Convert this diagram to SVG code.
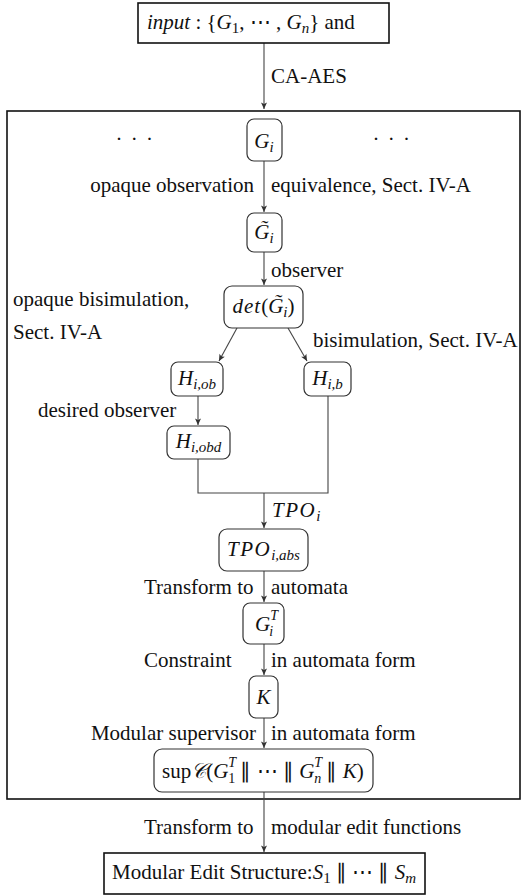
<svg xmlns="http://www.w3.org/2000/svg" width="521" height="896" viewBox="0 0 521 896" font-family="Liberation Serif, serif">
<defs>
<marker id="ah" markerWidth="8" markerHeight="8" refX="7" refY="4" orient="auto" markerUnits="userSpaceOnUse">
<path d="M0.5,1 L7,4 L0.5,7 L2,4 z" fill="#333"/>
</marker>
</defs>
<style>
text { font-family: 'Liberation Serif', serif; font-size: 21px; fill: #111; }
.i { font-style: italic; }
.s { font-size: 15px; }
.t { font-size: 14px; }
.mid { text-anchor: middle; }
.end { text-anchor: end; }
.node { fill: #fff; stroke: #333; stroke-width: 1.2; }
.box { fill: none; stroke: #111; stroke-width: 1.6; }
.edge { fill: none; stroke: #444; stroke-width: 1.1; }
.ar { marker-end: url(#ah); }
</style>
<rect width="521" height="896" fill="#fff"/>

<g id="frame">
<rect class="box" x="7" y="111" width="513" height="688"/>
</g>

<g id="connectors">
<line class="edge ar" x1="264" y1="43" x2="264" y2="109"/>
<line class="edge ar" x1="264" y1="161" x2="264" y2="212"/>
<line class="edge ar" x1="264" y1="252" x2="264" y2="285"/>
<line class="edge ar" x1="237" y1="328" x2="219" y2="361"/>
<line class="edge ar" x1="288" y1="328" x2="307" y2="361"/>
<line class="edge ar" x1="198" y1="396" x2="198" y2="425"/>
<polyline class="edge" points="198,459 198,493 328,493 328,396"/>
<line class="edge ar" x1="264" y1="493" x2="264" y2="528"/>
<line class="edge ar" x1="264" y1="571" x2="264" y2="602"/>
<line class="edge ar" x1="264" y1="644" x2="264" y2="675"/>
<line class="edge ar" x1="264" y1="718" x2="264" y2="748"/>
<line class="edge ar" x1="264" y1="792" x2="264" y2="852"/>
</g>

<g id="labels">
<text x="271" y="83">CA-AES</text>
<text x="135" y="146" class="mid" letter-spacing="1.5">· · ·</text>
<text x="392" y="146" class="mid" letter-spacing="1.5">· · ·</text>
<text x="254" y="192" class="end">opaque observation</text>
<text x="271" y="192">equivalence, Sect. IV-A</text>
<text x="271" y="277">observer</text>
<text x="13" y="306">opaque bisimulation,</text>
<text x="13" y="339">Sect. IV-A</text>
<text x="313" y="347">bisimulation, Sect. IV-A</text>
<text x="38" y="417">desired observer</text>
<text x="272" y="517"><tspan class="i" letter-spacing="1.5">TPO</tspan><tspan class="s i" dy="4">i</tspan></text>
<text x="144" y="594">Transform to</text>
<text x="271" y="594">automata</text>
<text x="144" y="667">Constraint</text>
<text x="271" y="667">in automata form</text>
<text x="256" y="740" class="end">Modular supervisor</text>
<text x="271" y="740">in automata form</text>
<text x="144" y="834">Transform to</text>
<text x="271" y="834">modular edit functions</text>
</g>

<g id="n-input">
<rect class="box" x="138" y="3" width="251" height="40"/>
<text x="147" y="29"><tspan class="i">input</tspan> : {<tspan class="i">G</tspan><tspan class="s" dy="4">1</tspan><tspan dy="-4">, ⋯ , </tspan><tspan class="i">G</tspan><tspan class="s i" dy="4">n</tspan><tspan dy="-4">}  and</tspan></text>
</g>

<g id="n-Gi">
<rect class="node" x="247" y="119" width="35" height="42" rx="7"/>
<text x="264" y="148" class="mid"><tspan class="i">G</tspan><tspan class="s i" dy="4">i</tspan></text>
</g>

<g id="n-Gti">
<rect class="node" x="247" y="213" width="35" height="39" rx="7"/>
<text x="264" y="239" class="mid"><tspan class="i">G̃</tspan><tspan class="s i" dy="4">i</tspan></text>
</g>

<g id="n-det">
<rect class="node" x="224" y="286" width="79" height="42" rx="8"/>
<text x="263.5" y="313" class="mid"><tspan class="i" letter-spacing="1">det</tspan>(<tspan class="i">G̃</tspan><tspan class="s i" dy="4">i</tspan><tspan dy="-4">)</tspan></text>
</g>

<g id="n-Hiob">
<rect class="node" x="171" y="362" width="52" height="34" rx="7"/>
<text x="197" y="385" class="mid"><tspan class="i">H</tspan><tspan class="s i" dy="4">i,ob</tspan></text>
</g>

<g id="n-Hib">
<rect class="node" x="304" y="362" width="47" height="34" rx="7"/>
<text x="327.5" y="385" class="mid"><tspan class="i">H</tspan><tspan class="s i" dy="4">i,b</tspan></text>
</g>

<g id="n-Hiobd">
<rect class="node" x="167" y="426" width="63" height="33" rx="7"/>
<text x="198.5" y="448" class="mid"><tspan class="i">H</tspan><tspan class="s i" dy="4">i,obd</tspan></text>
</g>

<g id="n-TPOabs">
<rect class="node" x="219" y="529" width="89" height="42" rx="8"/>
<text x="263.5" y="556" class="mid"><tspan class="i" letter-spacing="1.5">TPO</tspan><tspan class="s i" dy="4">i,abs</tspan></text>
</g>

<g id="n-GiT">
<rect class="node" x="243" y="603" width="41" height="41" rx="7"/>
<text x="255" y="631"><tspan class="i">G</tspan><tspan class="t i" dy="-11">T</tspan><tspan class="t i" dx="-8" dy="16">i</tspan></text>
</g>

<g id="n-K">
<rect class="node" x="249" y="676" width="29" height="42" rx="7"/>
<text x="263.5" y="704" class="mid"><tspan class="i">K</tspan></text>
</g>

<g id="n-sup">
<rect class="node" x="154" y="749" width="219" height="43" rx="8"/>
<text x="162" y="778">sup<tspan class="i">𝒞</tspan>(<tspan class="i">G</tspan><tspan class="t i" dy="-11">T</tspan><tspan class="t" dx="-8" dy="16">1</tspan><tspan dy="-5"> ∥ ⋯ ∥ </tspan><tspan class="i">G</tspan><tspan class="t i" dy="-11">T</tspan><tspan class="t i" dx="-8" dy="16">n</tspan><tspan dy="-5"> ∥ </tspan><tspan class="i">K</tspan>)</text>
</g>

<g id="n-output">
<rect class="box" x="104" y="853" width="321" height="41"/>
<text x="112" y="879">Modular Edit Structure:<tspan class="i">S</tspan><tspan class="s" dy="4">1</tspan><tspan dy="-4"> ∥ ⋯ ∥ </tspan><tspan class="i">S</tspan><tspan class="s i" dy="4">m</tspan></text>
</g>
</svg>
